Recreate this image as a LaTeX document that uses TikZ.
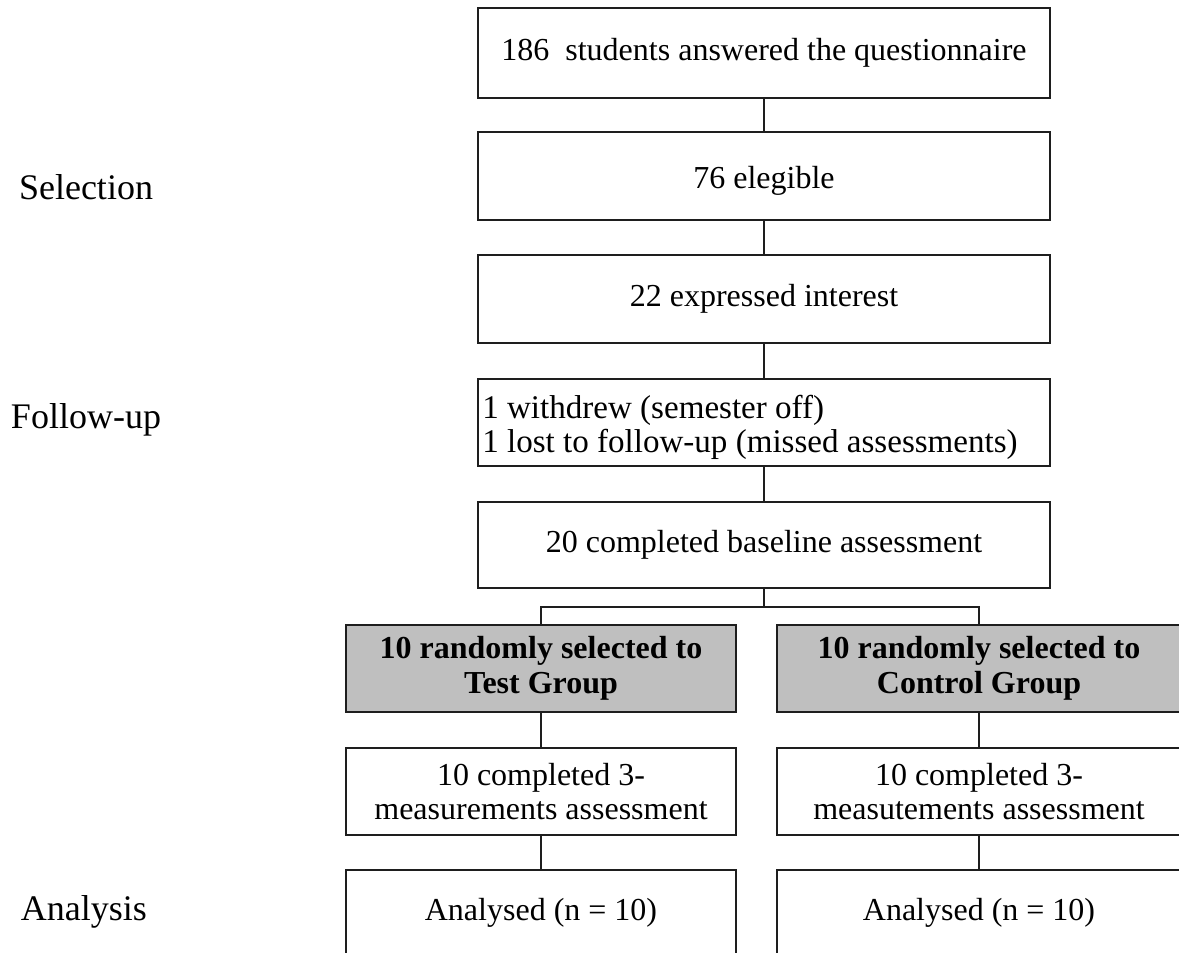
\documentclass[tikz,border=0pt]{standalone}
\usepackage{fontspec}
\setmainfont{Liberation Serif}
\definecolor{graybox}{RGB}{191,191,191}
\definecolor{ink}{RGB}{30,30,30}
\begin{document}
\begin{tikzpicture}[x=0.75pt,y=-0.75pt,
  box/.style={draw=ink,line width=1.65pt,rectangle,inner sep=0pt,align=center,
    font=\fontsize{24}{25}\selectfont},
  mainbox/.style={box,minimum width=429pt,minimum height=66pt},
  lbox/.style={box,minimum width=292.5pt,minimum height=65.25pt},
  rbox/.style={box,minimum width=303pt,minimum height=65.25pt},
  graystyle/.style={fill=graybox,font=\fontsize{24}{26}\selectfont\bfseries},
  lab/.style={inner sep=0pt,font=\fontsize{27}{30}\selectfont},
  plain/.style={inner sep=0pt,align=left,font=\fontsize{24.8}{25.5}\selectfont},
  conn/.style={draw=ink,line width=1.35pt}]
\useasboundingbox (0,0) rectangle (1179,953);
\clip (0,0) rectangle (1179,953);
% main column
\node[mainbox,minimum height=67.5pt] (b1) at (764,53) {186\ \ students answered the questionnaire};
\node[mainbox] (b2) at (764,176) {\raisebox{-3.5pt}[\height][\depth]{76 elegible}};
\node[mainbox] (b3) at (764,299) {22 expressed interest};
\node[box,minimum width=429pt,minimum height=65.25pt] (b4) at (764,422.5) {};
\node[plain,anchor=west] (t4) at (482,427) {1 withdrew (semester off)\\1 lost to follow-up (missed assessments)};
\node[mainbox,minimum height=64.5pt] (b5) at (764,545) {20 completed baseline assessment};
% groups
\node[lbox,graystyle] (g1) at (541,668.5) {10 randomly selected to\\Test Group};
\node[rbox,graystyle] (g2) at (979,668.5) {10 randomly selected to\\Control Group};
\node[lbox] (c1) at (541,791.5) {10 completed 3-\\measurements assessment};
\node[rbox] (c2) at (979,791.5) {10 completed 3-\\measutements assessment};
\node[lbox,minimum height=64.5pt] (a1) at (541,913) {Analysed (n = 10)};
\node[rbox,minimum height=64.5pt] (a2) at (979,913) {Analysed (n = 10)};
% labels
\node[lab] (ls) at (86,187) {Selection};
\node[lab] (lf) at (86,420) {Follow-up};
\node[lab] (la) at (84,912) {Analysis};
% connectors
\coordinate (br) at (764,607);
\draw[conn] (b1.south) -- (b2.north);
\draw[conn] (b2.south) -- (b3.north);
\draw[conn] (b3.south) -- (b4.north);
\draw[conn] (b4.south) -- (b5.north);
\draw[conn] (b5.south) -- (br);
\draw[conn] (g1.north) |- (br) -| (g2.north);
\draw[conn] (g1.south) -- (c1.north);
\draw[conn] (g2.south) -- (c2.north);
\draw[conn] (c1.south) -- (a1.north);
\draw[conn] (c2.south) -- (a2.north);
\end{tikzpicture}
\end{document}
